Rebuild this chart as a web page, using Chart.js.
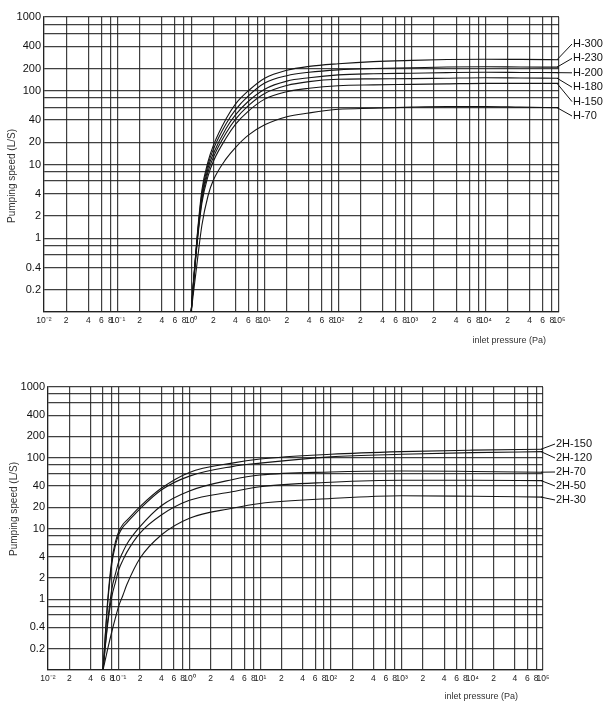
<!DOCTYPE html>
<html><head><meta charset="utf-8">
<script src="https://cdn.jsdelivr.net/npm/chart.js@4.4.1/dist/chart.umd.min.js"></script>
<style>
html,body{margin:0;padding:0;background:#fff;width:608px;height:710px;overflow:hidden}
.wrap{position:absolute;left:0;width:608px;height:355px}
canvas{display:block}
</style></head><body>
<div class="wrap" style="top:0"><canvas id="c1" width="608" height="355"></canvas></div>
<div class="wrap" style="top:355px"><canvas id="c2" width="608" height="355"></canvas></div>
<script>
// ---------- data: top chart (H series) ----------
const topPressure = [1, 1.2, 1.4, 1.7, 2, 3, 4, 6, 10, 20, 40, 100, 300, 1000, 3000, 10000, 30000, 100000];
const H300 = [0.1, 1.0, 4.5, 11, 18, 42, 66, 100, 148, 190, 214, 232, 248, 258, 265, 268, 266, 263];
const H230 = [0.1, 0.95, 4.0, 10, 16, 36, 55, 85, 127, 160, 178, 192, 200, 205, 210, 212, 210, 209];
const H200 = [0.1, 0.9, 3.6, 9, 14, 31, 47, 72, 105, 135, 150, 164, 170, 173, 176, 178, 177, 176];
const H180 = [0.1, 0.85, 3.3, 8, 12.5, 27, 41, 63, 92, 118, 133, 143, 145, 146, 148, 150, 149, 148];
const H150 = [0.1, 0.8, 3.0, 7, 11, 23, 35, 53, 77, 97, 108, 117, 120, 122, 124, 126, 126, 126];
const H70  = [0.1, 0.45, 1.5, 3.8, 6.1, 12, 17, 25, 34.5, 44.5, 50, 56, 58, 60, 61, 61, 60, 59];
const topNames = ['H-300', 'H-230', 'H-200', 'H-180', 'H-150', 'H-70'];

// ---------- data: bottom chart (2H series) ----------
const bottomPressure = [0.06, 0.07, 0.08, 0.09, 0.1, 0.115, 0.13, 0.2, 0.4, 1, 4, 10, 100, 1000, 10000, 100000];
const H2_150 = [0.1, 1.0, 3.6, 6.5, 9, 11.5, 13, 20.4, 37, 62, 84, 96, 112, 122, 128, 132];
const H2_120 = [0.1, 0.9, 3.2, 5.8, 8.2, 10.5, 12, 19, 35, 55, 75, 84, 103, 112, 118, 122];
const H2_70  = [0.1, 0.5, 1.4, 2.3, 3.4, 4.7, 6, 10.6, 21, 34, 49, 57, 63, 65, 64, 62.5];
const H2_50  = [0.1, 0.45, 1.1, 1.75, 2.6, 3.6, 4.6, 8.6, 15.5, 25, 33, 39, 45, 48, 48, 47.5];
const H2_30  = [0.1, 0.2, 0.35, 0.55, 0.8, 1.15, 1.6, 3.8, 8.1, 14, 19.3, 22.6, 26.5, 29, 28.5, 27.8];
const bottomNames = ['2H-150', '2H-120', '2H-70', '2H-50', '2H-30'];

// ---------- ticks / texts ----------
const xDecadeLabels = ['10⁻²', '10⁻¹', '10⁰', '10¹', '10²', '10³', '10⁴', '10⁵'];
const xDecadeExponents = [-2, -1, 0, 1, 2, 3, 4, 5];
const xMinorMultipliers = [2, 4, 6, 8];
const yGridValues = [0.1, 0.2, 0.4, 0.6, 0.8, 1, 2, 4, 6, 8, 10, 20, 40, 60, 80, 100, 200, 400, 600, 800, 1000];
const yLabelValues = [0.2, 0.4, 1, 2, 4, 10, 20, 40, 100, 200, 400, 1000];
const yTickLabels = ['0.2', '0.4', '1', '2', '4', '10', '20', '40', '100', '200', '400', '1000'];
const yAxisTitle = 'Pumping speed (L/S)';
const xAxisTitle = 'inlet pressure (Pa)';

// build x ticks from the lists above
const xTickValues = [];
const xTickTexts = [];
xDecadeExponents.forEach((e, i) => {
  xTickValues.push(Math.pow(10, e)); xTickTexts.push(xDecadeLabels[i]);
  if (i < xDecadeExponents.length - 1) {
    xMinorMultipliers.forEach(m => { xTickValues.push(m * Math.pow(10, e)); xTickTexts.push(String(m)); });
  }
});

const SANS = "'Liberation Sans', Arial, sans-serif";
const GRID = 'rgba(30,30,30,0.85)';

const annot = {
  id: 'annot',
  afterDatasetsDraw(chart, args, o) {
    const ctx = chart.ctx, a = chart.chartArea;
    ctx.save();
    ctx.strokeStyle = '#111'; ctx.lineWidth = 1; ctx.fillStyle = '#111';
    ctx.font = o.labelFont; ctx.textBaseline = 'middle'; ctx.textAlign = 'left';
    chart.data.datasets.forEach((ds, i) => {
      const meta = chart.getDatasetMeta(i);
      const p = meta.data[meta.data.length - 1];
      const ly = a.top + o.labelTop + i * o.labelStep;
      ctx.beginPath(); ctx.moveTo(p.x - 2, p.y); ctx.lineTo(o.labelX - 1, ly); ctx.stroke();
      ctx.fillText(ds.label, o.labelX, ly);
    });
    ctx.fillStyle = '#333'; ctx.font = o.yTitleFont;
    ctx.save();
    ctx.translate(o.yTitleX, o.yTitleY); ctx.rotate(-Math.PI / 2);
    ctx.textAlign = 'center'; ctx.fillText(yAxisTitle, 0, 0);
    ctx.restore();
    ctx.font = o.xTitleFont;
    ctx.textAlign = 'right';
    ctx.fillText(xAxisTitle, o.xTitleRight, o.xTitleY);
    ctx.restore();
  }
};

function makeChart(id, pressure, series, names, g) {
  return new Chart(document.getElementById(id), {
    type: 'line',
    data: {
      datasets: series.map((s, i) => ({
        label: names[i],
        data: pressure.map((p, j) => ({ x: p, y: s[j] })),
        borderColor: '#151515', borderWidth: 1.1, pointRadius: 0,
        cubicInterpolationMode: 'monotone', fill: false
      }))
    },
    options: {
      responsive: false, animation: false, devicePixelRatio: 1,
      layout: { padding: { top: g.top, right: g.right, left: 0, bottom: 0 } },
      plugins: { legend: { display: false }, tooltip: { enabled: false }, annot: g.annot },
      scales: {
        x: {
          type: 'logarithmic', min: 0.01, max: 100000,
          afterBuildTicks: s => { s.ticks = xTickValues.map(v => ({ value: v })); },
          afterFit: s => { s.height = g.xHeight; },
          ticks: { autoSkip: false, maxRotation: 0, minRotation: 0, padding: 4, color: '#222',
            font: { family: SANS, size: 8.5 }, callback: (v, i) => xTickTexts[i] },
          grid: { color: GRID, lineWidth: 1.2, drawTicks: false },
          border: { color: GRID, width: 1.2 }
        },
        y: {
          type: 'logarithmic', min: 0.1, max: 1000,
          afterBuildTicks: s => { s.ticks = yGridValues.map(v => ({ value: v })); },
          afterFit: s => { s.width = g.yWidth; },
          ticks: { autoSkip: false, padding: 3, color: '#111',
            font: { family: SANS, size: 11 },
            callback: v => { const k = yLabelValues.findIndex(t => Math.abs(t - v) / t < 1e-6); return k >= 0 ? yTickLabels[k] : ''; } },
          grid: { color: GRID, lineWidth: 1.2, drawTicks: false },
          border: { color: GRID, width: 1.2 }
        }
      }
    },
    plugins: [annot]
  });
}

makeChart('c1', topPressure, [H300, H230, H200, H180, H150, H70], topNames, {
  top: 17, right: 49, xHeight: 43, yWidth: 44,
  annot: { labelX: 573, labelTop: 27, labelStep: 14.4, labelFont: '11px ' + SANS,
    yTitleFont: '10px ' + SANS, xTitleFont: '9px ' + SANS,
    yTitleX: 12, yTitleY: 176, xTitleRight: 546, xTitleY: 341 }
});
makeChart('c2', bottomPressure, [H2_150, H2_120, H2_70, H2_50, H2_30], bottomNames, {
  top: 32, right: 65, xHeight: 40, yWidth: 48,
  annot: { labelX: 556, labelTop: 57, labelStep: 14, labelFont: '11px ' + SANS,
    yTitleFont: '10px ' + SANS, xTitleFont: '9px ' + SANS,
    yTitleX: 14, yTitleY: 154, xTitleRight: 518, xTitleY: 342 }
});
</script>
</body></html>
